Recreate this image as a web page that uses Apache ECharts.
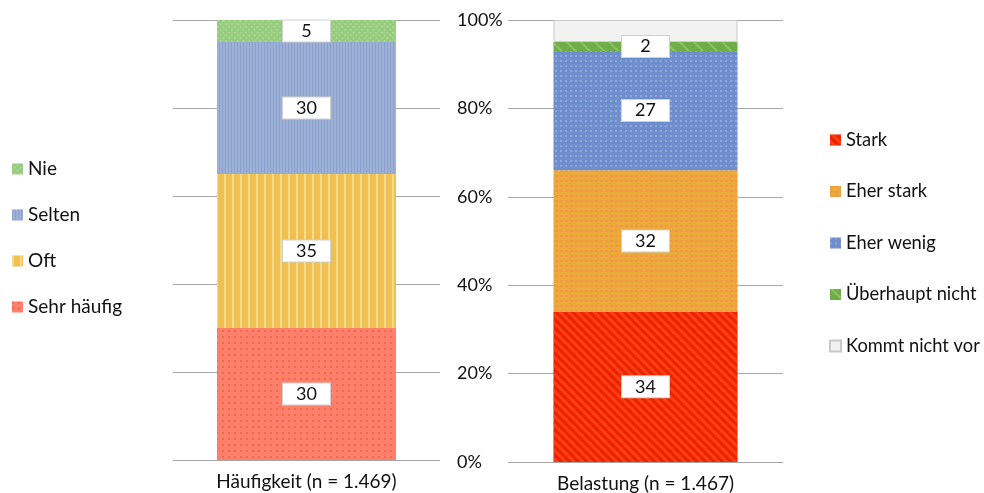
<!DOCTYPE html>
<html>
<head>
<meta charset="utf-8">
<script src="https://cdn.jsdelivr.net/npm/echarts@6/dist/echarts.min.js"></script>
<style>
html,body{margin:0;padding:0;background:#fff;}
#chart{width:984px;height:493px;}
</style>
</head>
<body>
<div id="chart"></div>
<script>
// ---- data ----
const leftCategory = ['Häufigkeit (n = 1.469)'];
const rightCategory = ['Belastung (n = 1.467)'];
const leftSeriesNames = ['Sehr häufig', 'Oft', 'Selten', 'Nie'];
const leftValues = [30, 35, 30, 5];
const rightSeriesNames = ['Stark', 'Eher stark', 'Eher wenig', 'Überhaupt nicht', 'Kommt nicht vor'];
const rightValues = [34, 32, 27, 2, 5];
const rightShowLabel = [true, true, true, true, false];
const yTicks = [0, 20, 40, 60, 80, 100];

// ---- styles ----
const FONT = 'Lato, "Open Sans", sans-serif';
const TXT = 19;
const leftStyles = [
  {color: '#FF806A', decal: {symbol: 'rect', symbolSize: 1, dashArrayX: [2, 4], dashArrayY: [2, 4], color: 'rgba(228,86,50,0.55)'}},
  {color: '#EEC150', decal: {symbol: 'rect', symbolSize: 1, dashArrayX: [2, 6], dashArrayY: [1, 0], color: 'rgba(255,230,170,0.65)'}},
  {color: '#9DB1D7', decal: {symbol: 'rect', symbolSize: 1, dashArrayX: [1, 2], dashArrayY: [1, 0], color: 'rgba(125,148,198,0.55)'}},
  {color: '#95CB7C', decal: {symbol: 'rect', symbolSize: 1, dashArrayX: [2, 2], dashArrayY: [2, 2], rotation: Math.PI / 4, color: 'rgba(190,225,170,0.55)'}}
];
const rightStyles = [
  {color: '#EE2000', decal: {symbol: 'rect', symbolSize: 1, dashArrayX: [3, 3], dashArrayY: [1, 0], rotation: -Math.PI / 4, color: 'rgba(255,85,30,0.6)'}},
  {color: '#ECAA3A', decal: {symbol: 'rect', symbolSize: 1, dashArrayX: [3, 2], dashArrayY: [2, 3], color: 'rgba(245,135,80,0.55)'}},
  {color: '#6E8ECD', decal: {symbol: 'rect', symbolSize: 1, dashArrayX: [2, 3], dashArrayY: [2, 3], color: 'rgba(165,185,228,0.55)'}},
  {color: '#6FAD46', decal: {symbol: 'rect', symbolSize: 1, dashArrayX: [2, 8], dashArrayY: [1, 0], rotation: -Math.PI / 4, color: 'rgba(150,205,110,0.7)'}},
  {color: '#F2F2F2', borderColor: '#C8C8C8', borderWidth: 1}
];

const labelStyle = {
  show: true,
  position: 'inside',
  formatter: '{c}',
  color: '#111',
  fontFamily: FONT,
  fontSize: 18,
  backgroundColor: '#fff',
  borderColor: '#D0D0D0',
  borderWidth: 1,
  width: 47,
  height: 21,
  lineHeight: 21,
  align: 'center',
  verticalAlign: 'middle'
};

const series = [];
leftSeriesNames.forEach((n, i) => {
  series.push({
    name: n, type: 'bar', stack: 'L', xAxisIndex: 0, yAxisIndex: 0,
    barWidth: 179, data: [leftValues[i]],
    itemStyle: leftStyles[i],
    label: labelStyle
  });
});
rightSeriesNames.forEach((n, i) => {
  series.push({
    name: n, type: 'bar', stack: 'R', xAxisIndex: 1, yAxisIndex: 1,
    barWidth: 184, data: [rightValues[i]],
    itemStyle: rightStyles[i],
    label: Object.assign({}, labelStyle, {show: rightShowLabel[i]})
  });
});

const chart = echarts.init(document.getElementById('chart'), null, {renderer: 'canvas'});
chart.setOption({
  animation: false,
  backgroundColor: '#fff',
  textStyle: {fontFamily: FONT},
  grid: [
    {left: 173, right: 984 - 440, top: 20, bottom: 493 - 460},
    {left: 508, right: 984 - 783, top: 20, bottom: 493 - 463}
  ],
  legend: [
    {
      data: ['Nie', 'Selten', 'Oft', 'Sehr häufig'],
      orient: 'vertical', left: 12, top: 158, padding: 0,
      itemWidth: 11, itemHeight: 11, itemGap: 24, icon: 'rect',
      textStyle: {fontSize: TXT, color: '#111', fontFamily: FONT, lineHeight: 22}
    },
    {
      data: ['Stark', 'Eher stark', 'Eher wenig', 'Überhaupt nicht', 'Kommt nicht vor'],
      orient: 'vertical', left: 829, top: 129, padding: 0,
      itemWidth: 11, itemHeight: 11, itemGap: 29.5, icon: 'rect',
      textStyle: {fontSize: 18.3, color: '#111', fontFamily: FONT, lineHeight: 22}
    }
  ],
  xAxis: [
    {type: 'category', gridIndex: 0, data: leftCategory,
      axisLine: {show: false}, axisTick: {show: false},
      axisLabel: {fontSize: TXT, color: '#111', fontFamily: FONT, margin: 12}},
    {type: 'category', gridIndex: 1, data: rightCategory,
      axisLine: {show: false}, axisTick: {show: false},
      axisLabel: {fontSize: TXT, color: '#111', fontFamily: FONT, margin: 12}}
  ],
  yAxis: [
    {type: 'value', gridIndex: 0, min: 0, max: 100, interval: 20,
      axisLabel: {show: false}, axisLine: {show: false}, axisTick: {show: false},
      splitLine: {lineStyle: {color: '#A6A6A6', width: 1}}},
    {type: 'value', gridIndex: 1, min: 0, max: 100, interval: 20,
      axisLabel: {fontSize: 18, color: '#111', fontFamily: FONT, align: 'left', margin: 51,
        formatter: v => yTicks.includes(v) ? v + '%' : ''},
      axisLine: {show: false}, axisTick: {show: false},
      splitLine: {lineStyle: {color: '#A6A6A6', width: 1}}}
  ],
  series: series
});
</script>
</body>
</html>
